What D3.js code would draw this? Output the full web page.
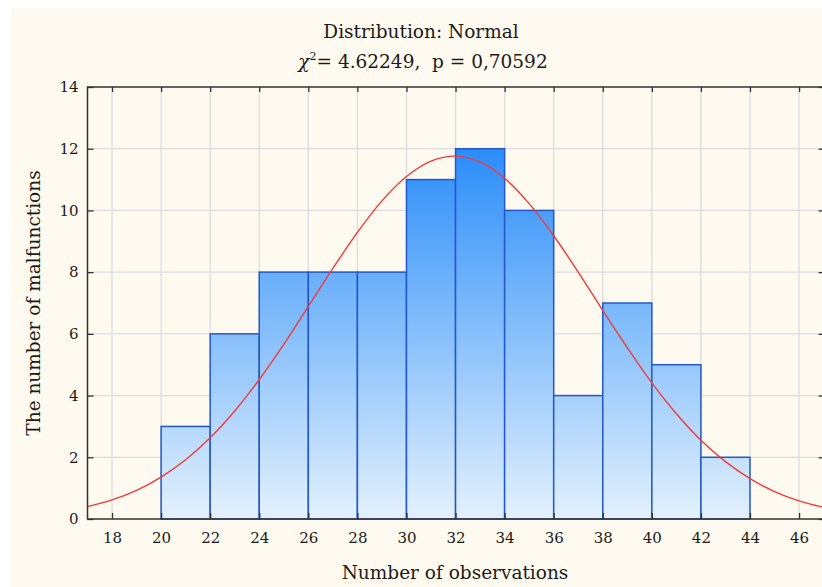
<!DOCTYPE html>
<html>
<head>
<meta charset="utf-8">
<script src="https://cdn.jsdelivr.net/npm/d3@7"></script>
<style>
  body { margin: 0; background: #fff; }
  svg { display: block; }
  text { font-family: "DejaVu Serif", "Liberation Serif", serif; fill: #1a1a1a; }
</style>
</head>
<body>
<script>
// histogram bins (lower edge) and counts
const binStarts = [20, 22, 24, 26, 28, 30, 32, 34, 36, 38, 40, 42];
const binWidth = 2;
const counts = [3, 6, 8, 8, 8, 11, 12, 10, 4, 7, 5, 2];

// fitted normal curve at each integer
const curveX = [17, 18, 19, 20, 21, 22, 23, 24, 25, 26, 27, 28, 29, 30, 31, 32,
  33, 34, 35, 36, 37, 38, 39, 40, 41, 42, 43, 44, 45, 46, 47];
const curveY = [0.40, 0.62, 0.93, 1.36, 1.92, 2.63, 3.50, 4.52, 5.66, 6.89, 8.12, 9.29,
  10.31, 11.10, 11.60, 11.76, 11.57, 11.04, 10.22, 9.18, 8.00, 6.76, 5.55, 4.41,
  3.41, 2.55, 1.86, 1.31, 0.89, 0.59, 0.38];

const xTicks = [18, 20, 22, 24, 26, 28, 30, 32, 34, 36, 38, 40, 42, 44, 46];
const yTicks = [0, 2, 4, 6, 8, 10, 12, 14];

const W = 822, H = 587;
const margin = {top: 87, right: -1.6, bottom: 68, left: 87.5};
const width = W - margin.left - margin.right,
  height = H - margin.top - margin.bottom;

const svg = d3.select("body").append("svg")
  .attr("width", W)
  .attr("height", H);

// cream background (white strip on the top and left edges)
svg.append("rect")
  .attr("x", 11).attr("y", 8)
  .attr("width", W).attr("height", H)
  .attr("fill", "#fffaef");

const defs = svg.append("defs");
defs.append("clipPath").attr("id", "plotclip")
  .append("rect").attr("width", width).attr("height", height);

const g = svg.append("g")
  .attr("transform", "translate(" + margin.left + "," + margin.top + ")");

const x = d3.scaleLinear().domain([17, 47]).range([0, width]);
const y = d3.scaleLinear().domain([0, 14]).range([height, 0]);

// gradient runs from the top of the tallest bar down to zero
const grad = defs.append("linearGradient")
  .attr("id", "barfill")
  .attr("gradientUnits", "userSpaceOnUse")
  .attr("x1", 0).attr("x2", 0)
  .attr("y1", y(d3.max(counts))).attr("y2", y(0));
grad.append("stop").attr("offset", 0).attr("stop-color", "#2a8df9");
grad.append("stop").attr("offset", 1).attr("stop-color", "#e4f1fd");

// grid
g.append("g").selectAll("line")
  .data(xTicks).enter().append("line")
  .attr("x1", d => x(d)).attr("x2", d => x(d))
  .attr("y1", 0).attr("y2", height)
  .attr("stroke", "#dcdcdc").attr("stroke-width", 1.3);
g.append("g").selectAll("line")
  .data(yTicks.slice(1, -1)).enter().append("line")
  .attr("x1", 0).attr("x2", width)
  .attr("y1", d => y(d)).attr("y2", d => y(d))
  .attr("stroke", "#dcdcdc").attr("stroke-width", 1.3);

// bars
g.append("g").selectAll("rect")
  .data(counts).enter().append("rect")
  .attr("x", (d, i) => x(binStarts[i]))
  .attr("y", d => y(d))
  .attr("width", (d, i) => x(binStarts[i] + binWidth) - x(binStarts[i]))
  .attr("height", d => y(0) - y(d))
  .attr("fill", "url(#barfill)")
  .attr("stroke", "#2258cc")
  .attr("stroke-width", 1.5);

// normal curve
const line = d3.line()
  .x((d, i) => x(curveX[i]))
  .y(d => y(d))
  .curve(d3.curveCatmullRom);
g.append("path")
  .datum(curveY)
  .attr("clip-path", "url(#plotclip)")
  .attr("d", line)
  .attr("fill", "none")
  .attr("stroke", "#f03a3a")
  .attr("stroke-width", 1.4);

// axes: ticks point inwards, mirrored on top/right
const tickStyle = sel => {
  sel.select(".domain").remove();
  sel.selectAll(".tick line").attr("stroke", "#333").attr("stroke-width", 1.3);
  sel.selectAll(".tick text").style("font-size", "15px")
    .style("font-family", "'DejaVu Serif', serif").attr("fill", "#1a1a1a");
};
g.append("g")
  .attr("transform", "translate(0," + height + ")")
  .call(d3.axisBottom(x).tickValues(xTicks).tickSizeInner(-6).tickSizeOuter(0).tickPadding(13))
  .call(tickStyle);
g.append("g")
  .call(d3.axisTop(x).tickValues(xTicks).tickSizeInner(-5).tickSizeOuter(0).tickFormat(""))
  .call(tickStyle);
g.append("g")
  .call(d3.axisLeft(y).tickValues(yTicks).tickSizeInner(-6).tickSizeOuter(0).tickPadding(9))
  .call(tickStyle);
g.append("g")
  .attr("transform", "translate(" + width + ",0)")
  .call(d3.axisRight(y).tickValues(yTicks).tickSizeInner(-5).tickSizeOuter(0).tickFormat(""))
  .call(tickStyle);

// frame
g.append("rect")
  .attr("width", width).attr("height", height)
  .attr("fill", "none")
  .attr("stroke", "#333").attr("stroke-width", 1.5);

// titles
svg.append("text")
  .attr("x", 421).attr("y", 38)
  .attr("text-anchor", "middle")
  .style("font-size", "18.5px")
  .text("Distribution: Normal");
const t2 = svg.append("text")
  .attr("x", 423).attr("y", 68)
  .attr("text-anchor", "middle")
  .style("font-size", "18.5px");
t2.append("tspan").style("font-style", "italic").text("χ");
t2.append("tspan").attr("dy", -8).style("font-size", "11px").text("2");
t2.append("tspan").attr("dy", 8).attr("xml:space", "preserve").text("= 4.62249,  p = 0,70592");

svg.append("text")
  .attr("x", 455).attr("y", 579)
  .attr("text-anchor", "middle")
  .style("font-size", "18.5px")
  .text("Number of observations");
svg.append("text")
  .attr("transform", "translate(40,303) rotate(-90)")
  .attr("text-anchor", "middle")
  .style("font-size", "18.5px")
  .text("The number of malfunctions");
</script>
</body>
</html>
